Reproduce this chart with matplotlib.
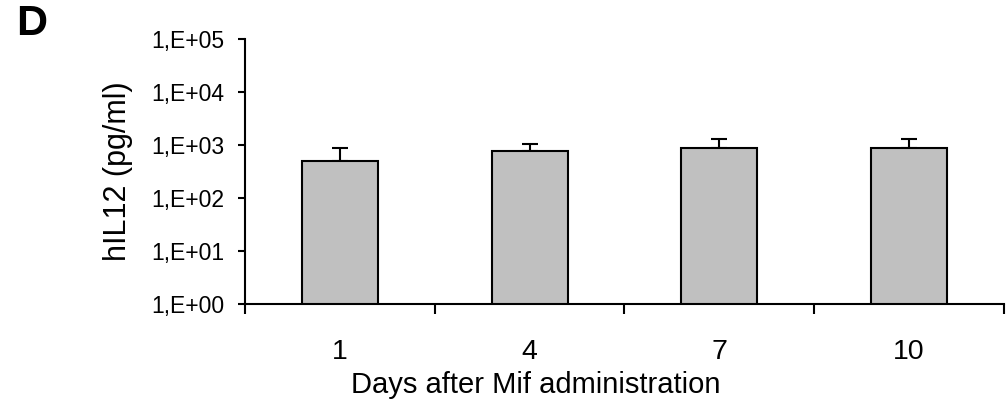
import numpy as np
import matplotlib
matplotlib.use('Agg')
import matplotlib.pyplot as plt

plt.rcParams['font.family'] = ['Liberation Sans', 'DejaVu Sans']

# data
days = ['1', '4', '7', '10']
hil12 = [506, 771, 867, 867]          # pg/ml
hil12_err = [361, 288, 448, 448]      # upper error only
ytick_vals = [1, 10, 100, 1000, 10000, 100000]
ytick_labels = ['1,E+00', '1,E+01', '1,E+02', '1,E+03', '1,E+04', '1,E+05']

fig = plt.figure(figsize=(10.07, 4.04), dpi=100)
ax = fig.add_axes([0.2433, 0.2475, 0.7537, 0.6559])

x = np.arange(len(days))
ax.bar(x, hil12, width=0.4, color='#c0c0c0', edgecolor='black', linewidth=1.5,
       zorder=2)
ax.errorbar(x, hil12, yerr=[np.zeros(len(hil12)), hil12_err], fmt='none',
            ecolor='black', elinewidth=1.5, capsize=6, capthick=1.5, zorder=1)

ax.set_yscale('log')
ax.set_ylim(1, 100000)
ax.set_yticks(ytick_vals)
ax.set_yticklabels(ytick_labels)
ax.minorticks_off()
ax.set_xlim(-0.5, len(days) - 0.5)

# ticks at category edges, labels at centers
ax.set_xticks(np.arange(len(days) + 1) - 0.5)
ax.set_xticklabels([])
ax.set_xticks(x, minor=True)
ax.set_xticklabels(days, minor=True)
ax.tick_params(axis='x', which='major', direction='out', length=7, width=1.5)
ax.tick_params(axis='x', which='minor', length=0, pad=25, labelsize=20.5)
ax.tick_params(axis='y', which='major', direction='out', length=5, width=1.5,
               pad=10, labelsize=16.5)

for s in ['top', 'right']:
    ax.spines[s].set_visible(False)
for s in ['left', 'bottom']:
    ax.spines[s].set_linewidth(1.5)

ax.set_ylabel('hIL12 (pg/ml)', fontsize=22)
ax.yaxis.set_label_coords(-0.148, 0.5)
ax.set_xlabel('Days after Mif administration', fontsize=21)
ax.xaxis.set_label_coords(0.383, -0.252)

fig.text(16 / 1007, 1 - 4 / 404, 'D', fontsize=31, fontweight='bold',
         va='top', ha='left')

fig.savefig('out.png', dpi=100)
